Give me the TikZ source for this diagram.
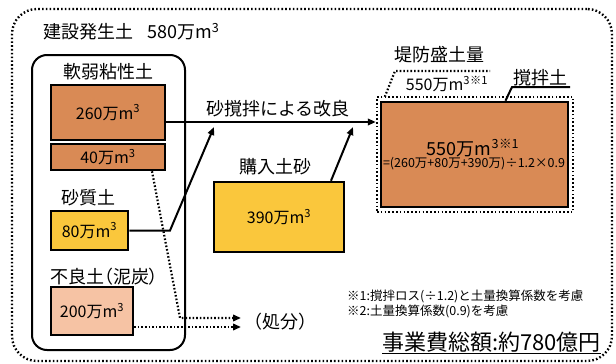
\documentclass[tikz,border=0pt]{standalone}
\usepackage{fontspec}
\setmainfont{Noto Sans CJK JP}
\usetikzlibrary{arrows.meta}
\definecolor{soilbrown}{HTML}{D98A55}
\definecolor{sandyel}{HTML}{FAC73C}
\definecolor{peatpeach}{HTML}{F6C3A4}
\tikzset{
  frame/.style={draw, line width=2.4pt, dash pattern=on 1.6pt off 2.2pt, rounded corners=25pt, inner sep=0pt},
  groupbox/.style={draw, line width=2pt, rounded corners=15pt, inner sep=0pt},
  volbox/.style={draw, line width=2.5pt, inner sep=0pt, font=\fontsize{16}{18}\selectfont},
  dotbox/.style={draw, line width=2.4pt, dash pattern=on 1.6pt off 2.2pt, inner sep=0pt},
  lab/.style={inner sep=0pt, font=\fontsize{18}{20}\selectfont},
  note/.style={inner sep=0pt, anchor=west, font=\fontsize{12.5}{14}\selectfont},
  arr/.style={line width=2pt, -{Triangle[length=8pt,width=6.5pt]}},
  dotarr/.style={line width=2.2pt, dash pattern=on 1.6pt off 2pt, -{Triangle[length=8pt,width=6.5pt]}},
  lead/.style={line width=2pt},
  dotlead/.style={line width=2.2pt, dash pattern=on 1.6pt off 2pt},
}
\newcommand{\cube}{m\textsuperscript{3}}
\begin{document}
\begin{tikzpicture}[x=1pt,y=-1pt]
\useasboundingbox (0,0) rectangle (616,364);
% outer frame
\node[frame, minimum width=600pt, minimum height=352pt] (frame) at (312,185) {};
\node[lab, anchor=west] (title) at (43,32) {建設発生土\hspace{14pt}580万\cube};
% soft soil group
\node[groupbox, minimum width=153pt, minimum height=295pt] (group) at (108.5,202.5) {};
\node[lab] (softlab) at (108,72) {軟弱粘性土};
\node[volbox, fill=soilbrown, minimum width=114pt, minimum height=55pt] (b260) at (108,112.5) {\raisebox{-5pt}{260万\cube}};
\node[volbox, fill=soilbrown, minimum width=114pt, minimum height=26pt] (b40) at (108,157) {40万\cube};
\node[lab] (sandlab) at (88,198) {砂質土};
\node[volbox, fill=sandyel, minimum width=77pt, minimum height=39pt] (b80) at (89.5,230.5) {80万\cube};
\node[lab, anchor=west] (peatlab) at (50,277) {\addfontfeatures{RawFeature=+palt}不良土（泥炭）};
\node[volbox, fill=peatpeach, minimum width=82pt, minimum height=48pt] (b200) at (92,311) {200万\cube};
% purchased sand
\node[lab] (buylab) at (275,167) {購入土砂};
\node[volbox, fill=sandyel, minimum width=130pt, minimum height=70pt] (b390) at (279,217) {390万\cube};
% embankment
\node[dotbox, minimum width=196pt, minimum height=115pt] (dot550) at (475,154.5) {};
\node[volbox, fill=soilbrown, minimum width=187pt, minimum height=105pt] (b550) at (474.5,154.5) {};
\node[inner sep=0pt, font=\fontsize{18}{20}\selectfont] (t550) at (473,148) {550万\cube\textsuperscript{※1}};
\node[inner sep=0pt, font=\fontsize{12.5}{14}\selectfont] (formula) at (474,164) {=(260万+80万+390万)÷1.2×0.9};
\node[lab] (teibou) at (439,55) {堤防盛土量};
\node[inner sep=0pt, font=\fontsize{16}{18}\selectfont] (l550) at (447,84) {550万\cube\textsuperscript{※1}};
\node[lab] (mixlab) at (540,78) {撹拌土};
% improvement label
\node[lab] (improve) at (278,109) {砂撹拌による改良};
% arrows
\coordinate (s260) at ([yshift=-9.5pt]b260.east);
\draw[arr] (s260) -- (dot550.west |- s260);
\coordinate (k80) at (170,230.5);
\coordinate (e80) at (214,127);
\draw[arr] (b80.east) -- (k80) -- (e80);
\coordinate (e390) at (353,127);
\draw[arr] ([xshift=52pt]b390.north) -- (e390);
% disposal
\node[lab, anchor=west] (disp) at (244,322) {（処分）};
\coordinate (k40) at (180,318);
\coordinate (d40) at (241,318);
\draw[dotarr] ([xshift=44pt]b40.south) -- (k40) -- (d40);
\coordinate (s200) at ([yshift=-16pt]b200.east);
\draw[dotarr] (s200) -- (d40 |- s200);
% leaders
\coordinate (kt) at (395,71);
\coordinate (et) at (490,71);
\draw[dotlead] ([xshift=9pt,yshift=-1pt]dot550.north west) -- (kt) -- (et);
\coordinate (km) at (512,87);
\coordinate (em) at (570,87);
\draw[lead] ([xshift=31pt]b550.north) -- (km) -- (em);
% notes
\node[note] (n1) at (347,296) {※1:撹拌ロス(÷1.2)と土量換算係数を考慮};
\node[note] (n2) at (347,311) {※2:土量換算係数(0.9)を考慮};
\node[inner sep=0pt, anchor=west, font=\fontsize{22}{24}\selectfont] (cost) at (382,342) {事業費総額:約780億円};
\draw[line width=1.5pt] ([yshift=-1pt]cost.south west) -- ([yshift=-1pt]cost.south east);
\end{tikzpicture}
\end{document}
